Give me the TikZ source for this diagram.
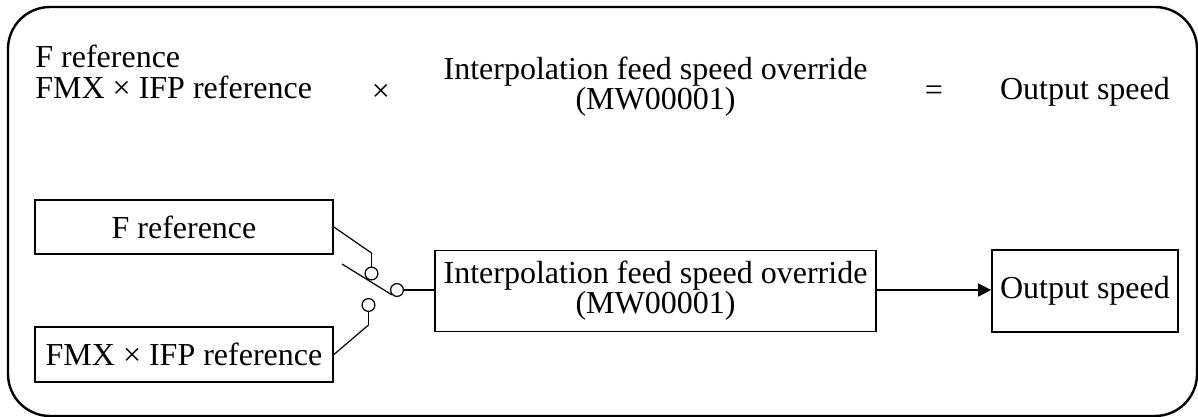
\documentclass[tikz,border=0pt]{standalone}
\usepackage{fontspec}
\setmainfont{Liberation Serif}
\usetikzlibrary{arrows.meta}
\begin{document}
\begin{tikzpicture}[x=0.5pt,y=-0.5pt,
  font=\fontsize{16pt}{15pt}\selectfont,
  frame/.style={line width=1.2pt,rounded corners=21pt},
  blockbox/.style={draw,line width=0.9pt,rectangle,inner sep=0pt,align=center},
  label/.style={inner sep=0pt,align=center},
  terminal/.style={draw,circle,line width=0.6pt,inner sep=0pt,minimum size=6.4pt},
  wire/.style={line width=0.6pt},
  stub/.style={line width=0.9pt},
  flow/.style={line width=0.9pt,-{Triangle[length=6.5pt,width=6.5pt]}}]
\useasboundingbox (0,0) rectangle (1198,417);
% outer frame
\draw[frame] (8,7) rectangle (1197,416);

% equation line
\node[label,anchor=base west] (fref) at (35,68) {F reference};
\node[label,anchor=base west] (fmxref) at (35,98) {FMX \texttimes{} IFP reference};
\node[label] (times) at (381,93) {\texttimes};
\node[label] (ifso) at (655.5,87) {Interpolation feed speed override\\(MW00001)};
\node[label] (equals) at (934,93) {=};
\node[label,anchor=base] (outtxt) at (1085,100) {Output speed};

% block diagram
\node[blockbox,minimum width=149pt,minimum height=27pt] (fbox) at (184,227) {F reference};
\node[blockbox,minimum width=149pt,minimum height=27.5pt] (fmxbox) at (184,354.5) {FMX \texttimes{} IFP reference};
\node[blockbox,minimum width=220.5pt,minimum height=40.5pt] (ifbox) at (655.5,291) {Interpolation feed speed override\\(MW00001)};
\node[blockbox,minimum width=93pt,minimum height=41pt] (outbox) at (1085,291) {Output speed};

% selector switch
\node[terminal] (t1) at (371.5,273.5) {};
\node[terminal] (t2) at (368.5,305) {};
\node[terminal] (tc) at (397,290) {};
\coordinate (k1) at (371.5,253);
\coordinate (k2) at (368.5,325);
\coordinate (blade) at (342,264);

\draw[wire] (fbox.east) -- (k1);
\draw[stub] (k1) -- (t1.north);
\draw[wire] (fmxbox.east) -- (k2);
\draw[stub] (k2) -- (t2.south);
\draw[wire] (blade) -- (tc.south west);
\draw[stub] (tc.east) -- (ifbox.west |- tc.east);
\draw[flow] (ifbox.east |- 0,290) -- (outbox.west |- 0,290);
\end{tikzpicture}
\end{document}
